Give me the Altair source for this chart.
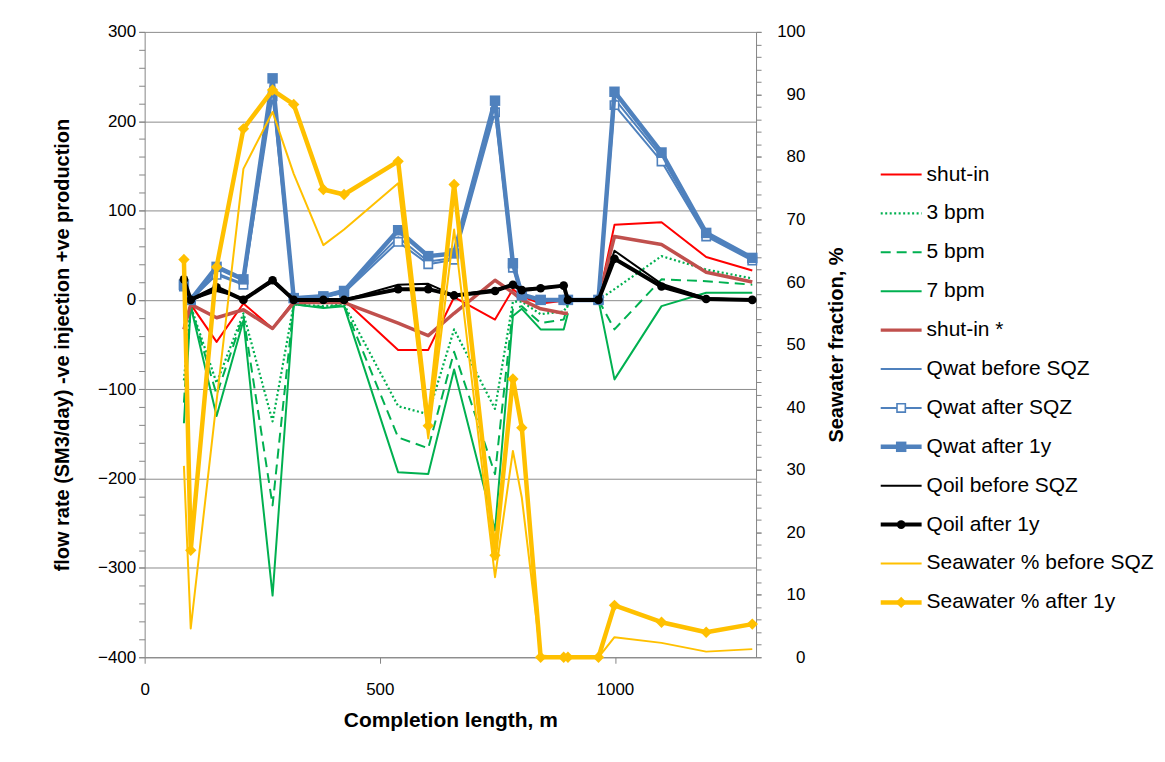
import altair as alt
import pandas as pd

# ---------------- data ----------------
X_M = [83.5, 98, 153, 210, 272, 317, 380, 424, 539, 603, 658, 745, 783, 802,
       842, 891, 900, 965, 999, 1099, 1194, 1292]

SHUT_IN = [-30, -5, -47, -4, -32, -1, 0, 0, -56, -56, 3, -22, 12, 4,
           -4, -1, -1, 0, 84, 87, 48, 33]
BPM_3 = [-90, -7, -93, -15, -136, -5, -7, -5, -119, -128, -33, -122, -2, -2,
         -16, -13, -5, 0, 12, 49, 34, 24]
BPM_5 = [-115, -7, -106, -18, -230, -5, -8, -6, -154, -166, -58, -195, -10, -7,
         -26, -22, -6, 0, -33, 23, 21, 17]
BPM_7 = [-138, -7, -130, -23, -331, -5, -9, -7, -193, -195, -78, -258, -18, -10,
         -33, -33, -15, 0, -89, -7, 8, 8]
SHUT_IN_STAR = [-33, -5, -20, -11, -32, -3, -3, -3, -26, -40, -15, 22, 8, 0,
                -10, -15, -15, 0, 71, 62, 31, 20]
QWAT_BEFORE = [16, 0, 30, 18, 235, 2, 3, 9, 70, 43, 47, 215, 38, 5,
               0, 0, 0, 0, 225, 160, 73, 45]
QWAT_AFTER = [15, 0, 28, 17, 228, 2, 3, 8, 65, 40, 45, 210, 36, 5,
              0, 0, 0, 0, 218, 155, 71, 44]
QWAT_1Y = [17, 0, 37, 23, 248, 2, 4, 10, 78, 49, 52, 223, 41, 6,
           0, 0, 0, 0, 233, 165, 75, 47]
QOIL_BEFORE = [20, 0, 10, 2, 20, 0, 0, 0, 17, 18, 5, 12, 17, 12,
               14, 16, 0, 0, 55, 18, 2, 0]
QOIL_1Y = [23, 0, 14, 0, 22, 0, 0, 0, 12, 12, 5, 10, 17, 11,
           13, 16, 0, 0, 46, 15, 1, 0]
SW_BEFORE = [30.6, 4.6, 41, 78.1, 87.2, 77.3, 65.9, 68.4, 75.8, 35, 68.4, 12.8, 33, 25.5,
             0.3, 0, 0, 0, 3.2, 2.3, 0.9, 1.3]
SW_1Y = [63.6, 17.1, 62.4, 84.5, 90.7, 88.4, 74.8, 74.0, 79.3, 37.0, 75.6, 16.3, 44.5, 36.7,
         0, 0, 0, 0, 8.3, 5.6, 4.0, 5.3]

NAMES = ["shut-in", "3 bpm", "5 bpm", "7 bpm", "shut-in *", "Qwat before SQZ",
         "Qwat after SQZ", "Qwat after 1y", "Qoil before SQZ", "Qoil after 1y",
         "Seawater % before SQZ", "Seawater %  after 1y"]

# injection series are not recorded between these two stations (line gap)
GAP_START = 965

X_TICKS = [0, 500, 1000]
YL_TICKS = [-400, -300, -200, -100, 0, 100, 200, 300]
YR_TICKS = [0, 10, 20, 30, 40, 50, 60, 70, 80, 90, 100]

# ---------------- styles ----------------
RED, GREEN, BROWN, BLUE, BLACK, GOLD = "#FF0000", "#00B050", "#C0504D", "#4F81BD", "#000000", "#FFC000"
AX = "#868686"
FONT = "Liberation Sans"

# (values, axis side, color, width, dash, marker, broken)
STYLE = [
    (SHUT_IN, "L", RED, 2, [], None, True),
    (BPM_3, "L", GREEN, 2.2, [2, 2.5], None, True),
    (BPM_5, "L", GREEN, 2, [10, 6], None, True),
    (BPM_7, "L", GREEN, 2, [], None, True),
    (SHUT_IN_STAR, "L", BROWN, 3.5, [], None, True),
    (QWAT_BEFORE, "L", BLUE, 2, [], None, False),
    (QWAT_AFTER, "L", BLUE, 2, [], "hollow", False),
    (QWAT_1Y, "L", BLUE, 4.5, [], "square", False),
    (QOIL_BEFORE, "L", BLACK, 2, [], None, False),
    (QOIL_1Y, "L", BLACK, 4, [], "circle", False),
    (SW_BEFORE, "R", GOLD, 2, [], None, False),
    (SW_1Y, "R", GOLD, 4.5, [], "diamond", False),
]

XS = alt.Scale(domain=[0, 1300], nice=False, zero=False)
YL = alt.Scale(domain=[-400, 300], nice=False, zero=False)
YR = alt.Scale(domain=[0, 100], nice=False, zero=False)


def frame(vals, broken=False):
    seg = [int(broken and x >= GAP_START) for x in X_M]
    return pd.DataFrame({"x": X_M, "y": vals, "seg": seg})


def base(df, yscale, yaxis=None, xaxis=None):
    return alt.Chart(df).encode(
        x=alt.X("x:Q", scale=XS, axis=xaxis),
        y=alt.Y("y:Q", scale=yscale, axis=yaxis),
    )


def marker_kw(kind, color):
    if kind == "hollow":
        return dict(shape="square", size=70, fill="white", fillOpacity=1,
                    stroke=color, strokeWidth=1.6, opacity=1)
    if kind == "square":
        return dict(shape="square", size=110, filled=True, color=color, opacity=1)
    if kind == "circle":
        return dict(shape="circle", size=75, filled=True, color=color, opacity=1)
    return dict(shape="diamond", size=130, filled=True, color=color, opacity=1)


x_axis = alt.Axis(orient="bottom", values=X_TICKS, format="d", grid=False, domainColor=AX,
                  tickColor=AX, tickSize=6, labelFont=FONT, labelFontSize=17, labelColor="black",
                  labelPadding=18, labelFlush=False,
                  title="Completion length, m", titleFont=FONT, titleFontSize=21,
                  titleFontWeight="bold", titleColor="black", titlePadding=12)
yl_axis = alt.Axis(orient="left", values=YL_TICKS, grid=True, gridColor="#8c8c8c", gridWidth=1,
                   domainColor=AX, tickColor=AX, tickSize=6, labelFont=FONT, labelFontSize=17,
                   labelColor="black", labelPadding=3, labelFlush=False, labelOverlap=False,
                   title="flow rate (SM3/day) -ve injection +ve production", titleFont=FONT,
                   titleFontSize=20, titleFontWeight="bold", titleColor="black", titlePadding=25)
yl_minor = alt.Axis(orient="left", values=list(range(-400, 301, 20)), grid=False, domain=False,
                    labels=False, tickColor=AX, tickSize=6, title="")
yr_axis = alt.Axis(orient="right", values=YR_TICKS, grid=False, domainColor=AX, tickColor=AX,
                   tickSize=5, labelFont=FONT, labelFontSize=17, labelColor="black",
                   labelAlign="right", labelPadding=44, labelFlush=False, labelOverlap=False,
                   title="Seawater fraction, %", titleFont=FONT, titleFontSize=20,
                   titleFontWeight="bold", titleColor="black", titleAngle=270, titlePadding=42)
yr_minor = alt.Axis(orient="right", values=list(range(0, 101, 2)), grid=False, domain=False,
                    labels=False, tickColor=AX, tickSize=5, title="")

layers = [
    base(frame(SHUT_IN), YL, yl_axis, x_axis).mark_point(opacity=0),
    base(frame(SHUT_IN), YL, yl_minor).mark_point(opacity=0),
    base(frame(SW_1Y), YR, yr_axis).mark_point(opacity=0),
    base(frame(SW_1Y), YR, yr_minor).mark_point(opacity=0),
]

for vals, side, color, width, dash, marker, broken in STYLE:
    ys = YL if side == "L" else YR
    mk = dict(color=color, strokeWidth=width, strokeJoin="round")
    if dash:
        mk["strokeDash"] = dash
    layers.append(base(frame(vals, broken), ys).mark_line(**mk).encode(detail="seg:N"))
    if marker:
        layers.append(base(frame(vals), ys).mark_point(**marker_kw(marker, color)))

main = alt.layer(*layers).resolve_scale(x="independent", y="independent").properties(
    width=613, height=627)

# ---------------- legend panel ----------------
LX = alt.Scale(domain=[0, 275], nice=False, zero=False)
LY = alt.Scale(domain=[-3.667, 12.41], nice=False, zero=False, reverse=True)
SYM_X = [0, 41]
MID_X = 20.5
TXT_X = 46

leg_layers = []
for i, (name, st) in enumerate(zip(NAMES, STYLE)):
    vals, side, color, width, dash, marker, broken = st
    mk = dict(color=color, strokeWidth=width)
    if dash:
        mk["strokeDash"] = dash
    df_line = pd.DataFrame({"x": SYM_X, "y": [i, i]})
    enc = dict(x=alt.X("x:Q", scale=LX, axis=None), y=alt.Y("y:Q", scale=LY, axis=None))
    leg_layers.append(alt.Chart(df_line).mark_line(**mk).encode(**enc))
    if marker:
        df_pt = pd.DataFrame({"x": [MID_X], "y": [i]})
        leg_layers.append(alt.Chart(df_pt).mark_point(**marker_kw(marker, color)).encode(**enc))

df_txt = pd.DataFrame({"x": [TXT_X] * len(NAMES), "y": list(range(len(NAMES))), "t": NAMES})
leg_layers.append(
    alt.Chart(df_txt).mark_text(align="left", baseline="middle", font=FONT, fontSize=21,
                                color="black").encode(
        x=alt.X("x:Q", scale=LX, axis=None), y=alt.Y("y:Q", scale=LY, axis=None), text="t:N")
)
legend = alt.layer(*leg_layers).properties(width=275, height=627)

chart = alt.hconcat(main, legend, spacing=25).properties(
    padding={"left": 44, "top": 14, "right": 2, "bottom": 5},
    background="white",
).configure_view(strokeWidth=0)

chart.save("out.html", embed_options={"renderer": "svg", "actions": False})
